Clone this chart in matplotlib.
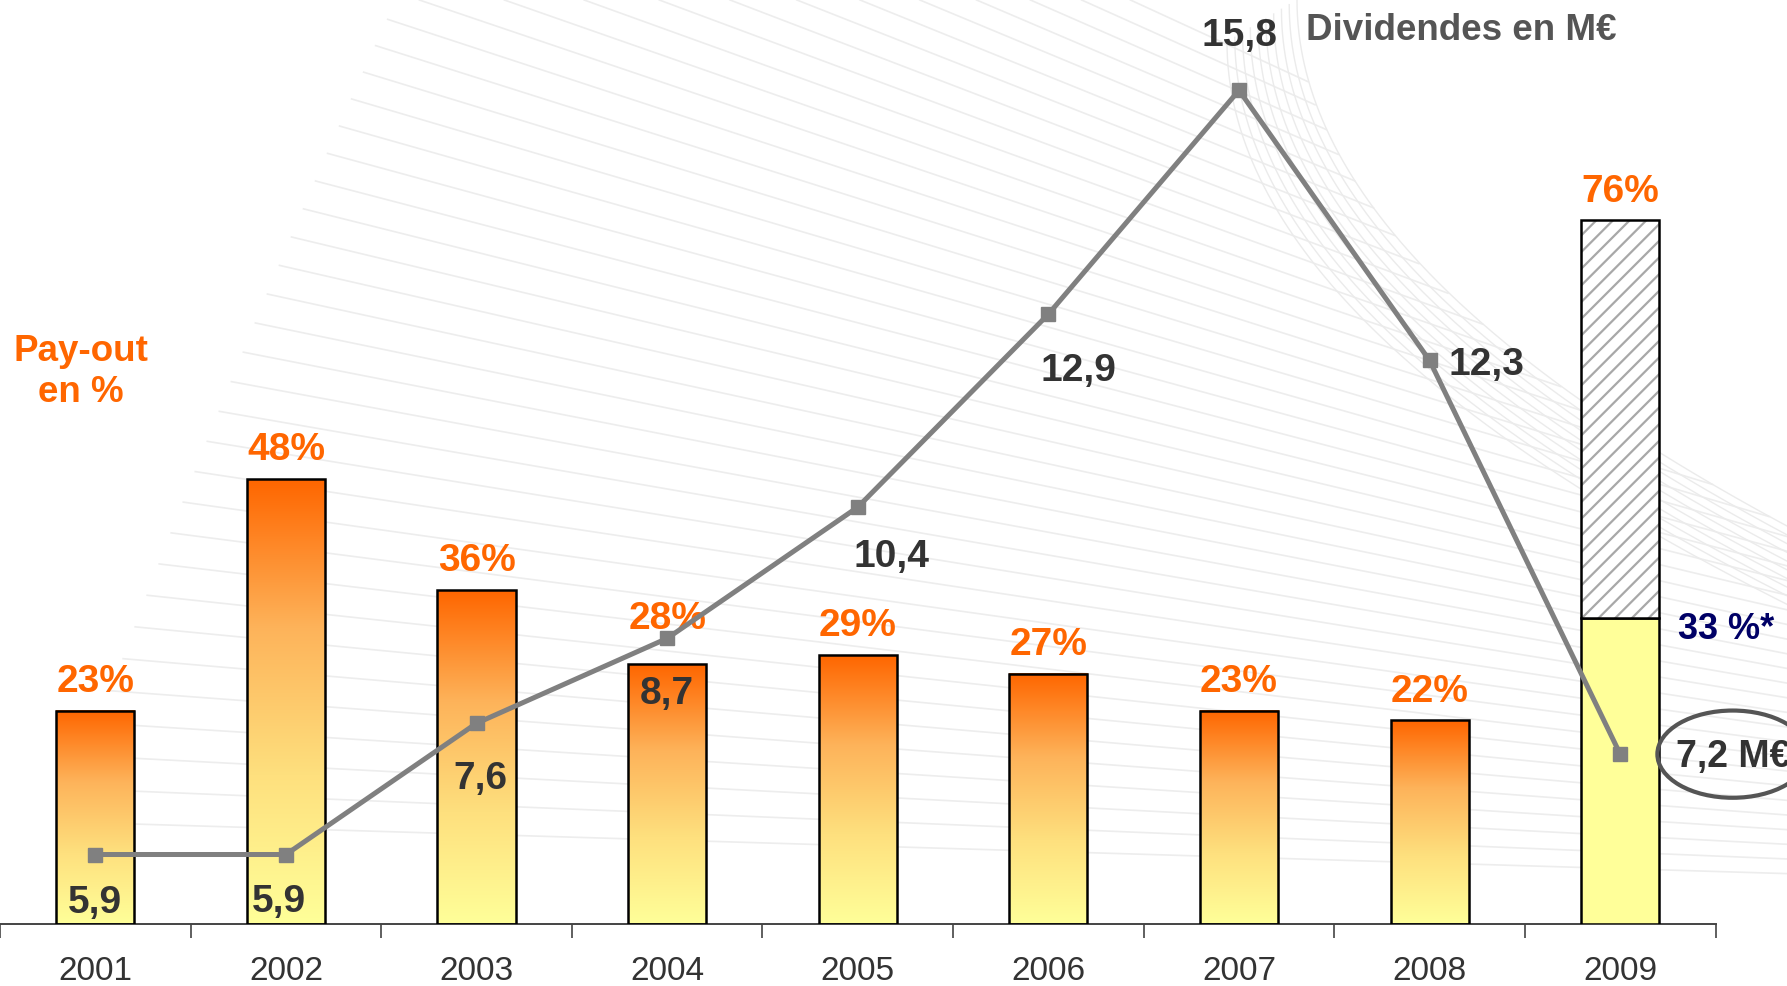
import numpy as np
import matplotlib.pyplot as plt
from matplotlib.colors import LinearSegmentedColormap
from matplotlib.patches import Ellipse

years = ['2001', '2002', '2003', '2004', '2005', '2006', '2007', '2008', '2009']
payout = [23, 48, 36, 28, 29, 27, 23, 22, 76]
payout_2009_base = 33
dividends = [5.9, 5.9, 7.6, 8.7, 10.4, 12.9, 15.8, 12.3, 7.2]

# label offsets in points (styling only)
pct_dy = [21, 21, 21, 33, 21, 21, 21, 20, 20]
div_off = [(0, -35), (-5, -34), (3, -40), (0, -40), (24, -36), (22, -41), (0, 39), (41, -3)]

ORANGE = '#FF6600'
PALE = '#FFFF99'
GREY_LINE = '#808080'
DARK = '#333333'

plt.rcParams['font.family'] = ['Liberation Sans', 'DejaVu Sans']
plt.rcParams['hatch.linewidth'] = 1.6

fig = plt.figure(figsize=(17.87, 9.86), dpi=100)

# faint decorative swoosh in the background (pixel space)
bg = fig.add_axes([0, 0, 1, 1], zorder=-1)
bg.set_xlim(0, 1787)
bg.set_ylim(986, 0)
bg.axis('off')
for c in np.linspace(-520, 820, 40):
    s = 0.46 - 0.43 * (c + 520) / 1340
    x_start = max(350 - 0.35 * c, -c / s)
    xs = np.linspace(x_start, 1787, 400)
    ys = c + s * xs
    keep = xs <= 1297 + 490 * (np.clip(ys, 0, None) / 526) ** 2
    bg.plot(xs[keep], ys[keep], color='#EDEDED', lw=1.2)
for d in np.linspace(0, 70, 10):
    ys = np.linspace(0, 600, 300)
    xs = 1297 - d + 490 * (ys / 526) ** 2
    bg.plot(xs, ys + d * 0.6, color='#EBEBEB', lw=1.0)

ax = fig.add_axes([0, 0.0629, 0.96, 0.9371])

x = np.arange(len(years))
w = 0.41
grad_cmap = LinearSegmentedColormap.from_list('payout', [PALE, '#FEE07E', '#FDB35A', ORANGE])
grad = np.linspace(0, 1, 256).reshape(-1, 1)

bars = ax.bar(x[:-1], payout[:-1], width=w, facecolor='none', edgecolor='black',
              linewidth=1.8, zorder=3)
for b in bars:
    x0, h = b.get_x(), b.get_height()
    ax.imshow(grad, cmap=grad_cmap, origin='lower', extent=[x0, x0 + w, 0, h],
              aspect='auto', zorder=2, interpolation='bilinear')

# 2009: solid part + hatched remainder
ax.bar(x[-1], payout_2009_base, width=w, color=PALE, edgecolor='black', linewidth=1.8, zorder=3)
ax.bar(x[-1], payout[-1] - payout_2009_base, bottom=payout_2009_base, width=w,
       facecolor='white', edgecolor='#A8A8A8', hatch='//', linewidth=0, zorder=3)
ax.bar(x[-1], payout[-1] - payout_2009_base, bottom=payout_2009_base, width=w,
       facecolor='none', edgecolor='black', linewidth=1.8, zorder=4)

for i, v in enumerate(payout):
    ax.annotate(f'{v}%', (x[i], v), xytext=(0, pct_dy[i]), textcoords='offset points',
                ha='center', va='center', color=ORANGE, fontsize=28, fontweight='bold', zorder=6)

ax.annotate('33 %*', (x[-1] + w / 2, payout_2009_base), xytext=(48, -8), textcoords='offset points',
            ha='center', va='center', color='#000066', fontsize=26, fontweight='bold',
            annotation_clip=False)

ax.set_xlim(-0.5, 8.5)
ax.set_ylim(0, 99.7)
ax.set_xticks(x, years)
ax.set_xticks(np.arange(-0.5, 9, 1), minor=True)
ax.tick_params(axis='x', which='major', length=0, pad=23, labelsize=24, labelcolor=DARK)
ax.tick_params(axis='x', which='minor', length=10, width=1.2, direction='out', color='#444444')
ax.set_yticks([])
for s in ['top', 'left', 'right']:
    ax.spines[s].set_visible(False)
ax.spines['bottom'].set_color('#444444')
ax.spines['bottom'].set_linewidth(1.4)
ax.patch.set_alpha(0)

ax2 = ax.twinx()
ax2.set_ylim(5.0, 16.97)
ax2.plot(x, dividends, color=GREY_LINE, lw=3.6, marker='s', ms=10, zorder=5)
ax2.set_yticks([])
for s in ax2.spines.values():
    s.set_visible(False)

for i, v in enumerate(dividends[:-1]):
    dx, dy = div_off[i]
    ax2.annotate(f'{v:.1f}'.replace('.', ','), (x[i], v), xytext=(dx, dy),
                 textcoords='offset points', ha='center', va='center',
                 color=DARK, fontsize=28, fontweight='bold')

ax2.annotate(f'{dividends[-1]:.1f}'.replace('.', ',') + ' M€', (x[-1], dividends[-1]),
             xytext=(40, -2), textcoords='offset points', ha='left', va='center',
             color=DARK, fontsize=27, fontweight='bold', annotation_clip=False)
ax2.add_patch(Ellipse((x[-1] + 0.59, dividends[-1]), 0.79, 1.13, fill=False,
                      edgecolor='#555555', linewidth=3, clip_on=False))

fig.text(81 / 1787, 1 - 372 / 986, 'Pay-out\nen %', ha='center', va='center',
         color=ORANGE, fontsize=26.5, fontweight='bold', linespacing=1.2)
fig.text(1306 / 1787, 1 - 31 / 986, 'Dividendes en M€', ha='left', va='center',
         color='#555555', fontsize=26.5, fontweight='bold')

fig.savefig('out.png', dpi=100)
